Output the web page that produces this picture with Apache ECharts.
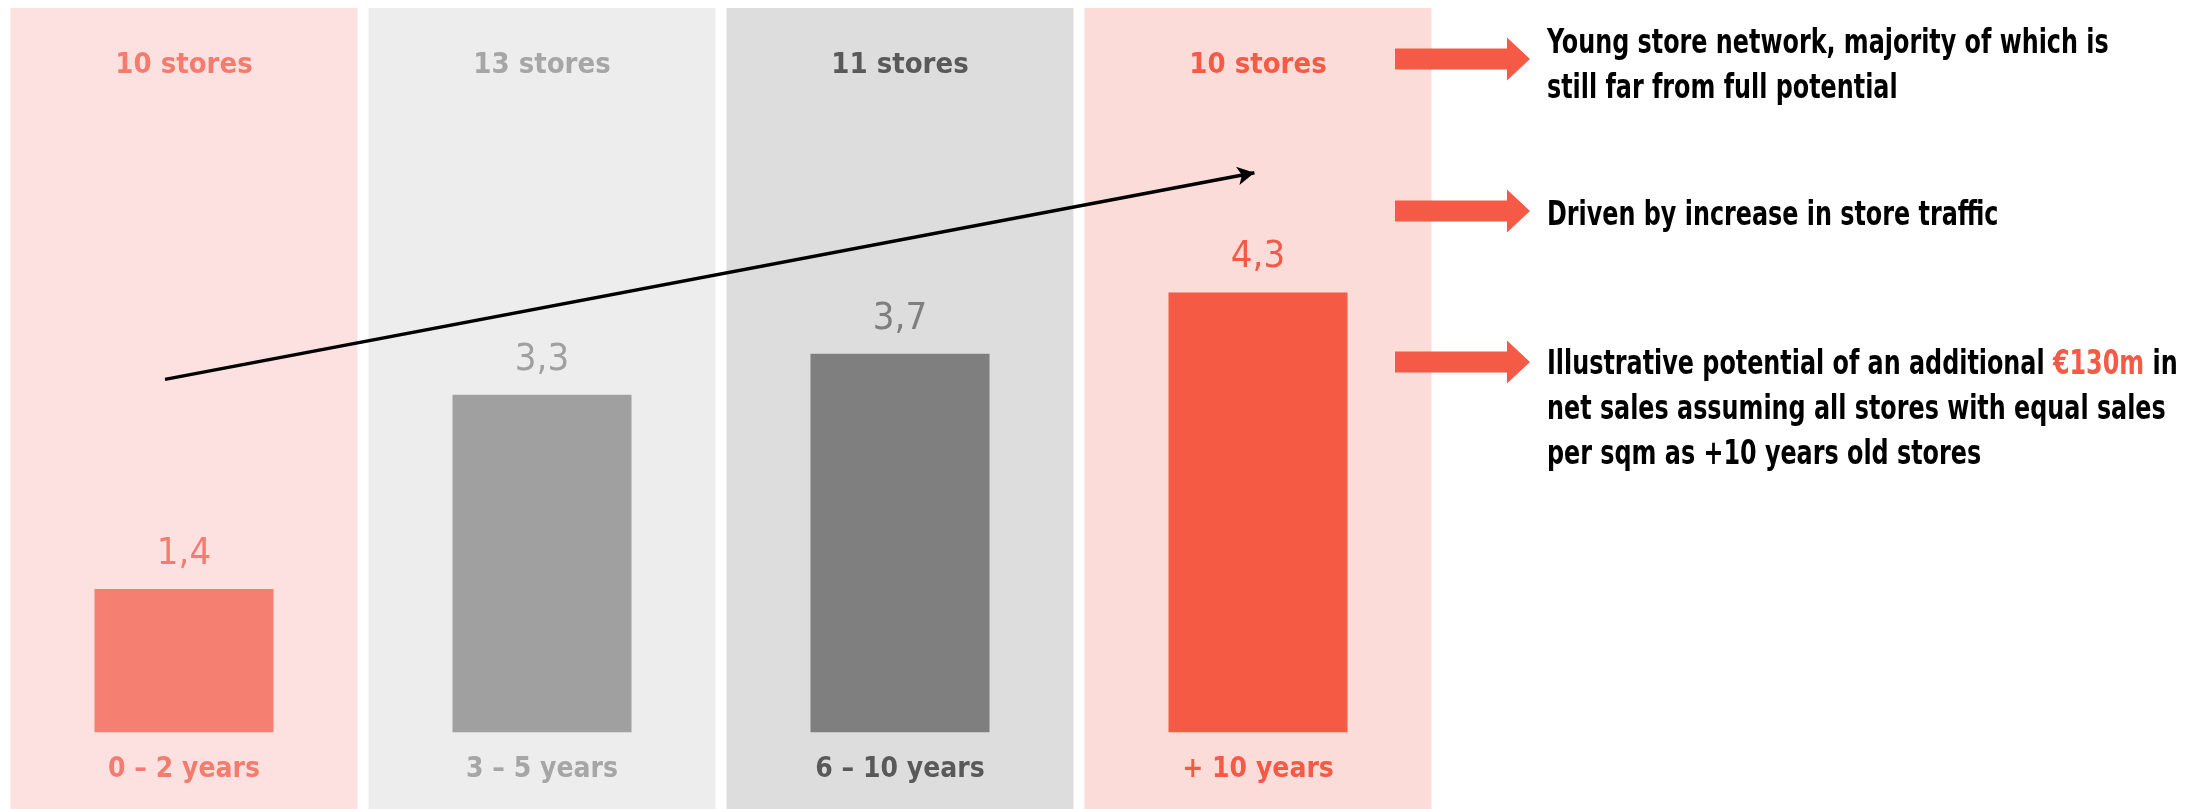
<!DOCTYPE html>
<html>
<head>
<meta charset="utf-8">
<script src="https://cdn.jsdelivr.net/npm/echarts@6/dist/echarts.min.js"></script>
<style>
  html, body { margin: 0; padding: 0; background: #fff; }
  #chart { width: 2203px; height: 809px; }
</style>
</head>
<body>
<div id="chart"></div>
<script>
var categories = ['0 – 2 years', '3 – 5 years', '6 – 10 years', '+ 10 years'];
var salesPerSqm = [1.4, 3.3, 3.7, 4.3];
var storeCounts = [10, 13, 11, 10];
var barColors = ['#F58071', '#A0A0A0', '#7F7F7F', '#F45A44'];
var panelColors = ['#FDE1E1', '#EDEDED', '#DDDDDD', '#FBDCD9'];
var textColors = ['#F47C6E', '#A6A6A6', '#595959', '#F45A45'];
// trend arrow: [category position, value]
var trendArrow = [[-0.053, 3.45], [2.99, 5.47]];
var notes = [
    'Young store network, majority of which is\nstill far from full potential',
    'Driven by increase in store traffic',
    'Illustrative potential of an additional {hl|€130m} in\nnet sales assuming all stores with equal sales\nper sqm as +10 years old stores'
];
var noteTops = [22, 194, 343];
var arrowCenters = [59, 211, 362];

var FONT = '"DejaVu Sans Condensed", "DejaVu Sans", sans-serif';
var RED = '#F45A45';

var chart = echarts.init(document.getElementById('chart'));

var graphics = [];
arrowCenters.forEach(function (cy, i) {
    graphics.push({
        type: 'polygon',
        z: 100,
        shape: {
            points: [[1395, cy - 10.5], [1507, cy - 10.5], [1507, cy - 21.5], [1530, cy],
                     [1507, cy + 21.5], [1507, cy + 10.5], [1395, cy + 10.5]]
        },
        style: { fill: RED }
    });
    graphics.push({
        type: 'text',
        z: 100,
        x: 1547,
        y: noteTops[i],
        scaleX: 0.78,
        style: {
            text: notes[i],
            fill: '#000',
            font: 'bold 34px ' + FONT,
            lineHeight: 45,
            verticalAlign: 'top',
            rich: { hl: { fill: RED, font: 'bold 34px ' + FONT, lineHeight: 45 } }
        }
    });
});

var options = {
    animation: false,
    grid: { left: 5, right: 766, top: 8, bottom: 0, containLabel: false },
    xAxis: [
        {
            type: 'category',
            data: categories,
            z: 10,
            axisLine: { show: false },
            axisTick: { show: false },
            axisLabel: {
                inside: true,
                margin: 25,
                fontFamily: FONT,
                fontWeight: 'bold',
                fontSize: 28,
                color: function (v, i) { return textColors[i]; }
            }
        },
        {
            type: 'category',
            position: 'top',
            data: categories,
            z: 10,
            axisLine: { show: false },
            axisTick: { show: false },
            axisLabel: {
                inside: true,
                margin: 43,
                fontFamily: FONT,
                fontWeight: 'bold',
                fontSize: 29,
                formatter: function (v, i) { return storeCounts[i] + ' stores'; },
                color: function (v, i) { return textColors[i]; }
            }
        },
        { type: 'value', min: -0.5, max: 3.5, show: false }
    ],
    yAxis: [
        { type: 'value', min: -0.75, max: 7.08, show: false },
        { type: 'value', min: 0, max: 1, show: false }
    ],
    series: [
        {
            name: 'panel',
            type: 'bar',
            xAxisIndex: 1,
            yAxisIndex: 1,
            barWidth: 347,
            silent: true,
            data: panelColors.map(function (c) {
                return { value: 1, itemStyle: { color: c } };
            }),
            z: 1
        },
        {
            name: 'Net sales per sqm',
            type: 'bar',
            xAxisIndex: 0,
            yAxisIndex: 0,
            barWidth: 179,
            data: salesPerSqm.map(function (v, i) {
                return {
                    value: v,
                    itemStyle: { color: barColors[i] },
                    label: { color: i === 0 ? textColors[0] : barColors[i] }
                };
            }),
            label: {
                show: true,
                position: 'top',
                distance: 16,
                fontFamily: FONT,
                fontSize: 38,
                formatter: function (p) { return String(p.value).replace('.', ','); }
            },
            z: 2
        },
        {
            name: 'trend',
            type: 'line',
            xAxisIndex: 2,
            yAxisIndex: 0,
            data: trendArrow,
            symbol: 'none',
            lineStyle: { opacity: 0 },
            silent: true,
            z: 3,
            markLine: {
                silent: true,
                animation: false,
                symbol: ['none', 'arrow'],
                symbolSize: [14, 17],
                label: { show: false },
                lineStyle: { color: '#000', width: 3.5, type: 'solid' },
                data: [[{ coord: trendArrow[0] }, { coord: trendArrow[1] }]]
            }
        }
    ],
    graphic: graphics
};

chart.setOption(options);
</script>
</body>
</html>
